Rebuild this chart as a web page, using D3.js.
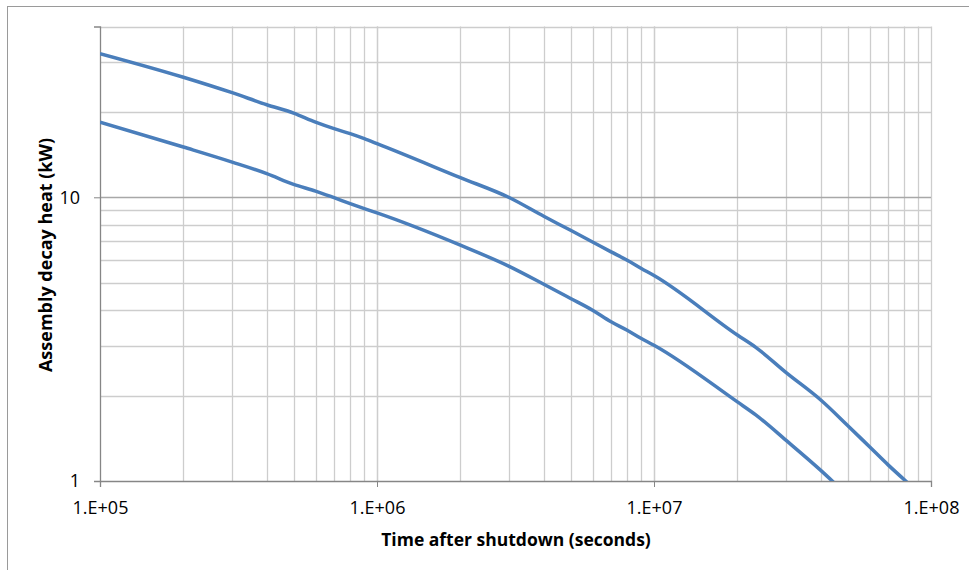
<!DOCTYPE html>
<html>
<head>
<meta charset="utf-8">
<script src="https://cdn.jsdelivr.net/npm/d3@7"></script>
<style>
  html, body { margin: 0; padding: 0; background: #fff; }
  svg { display: block; }
  text { font-family: "Open Sans", Lato, sans-serif; fill: #000; }
</style>
</head>
<body>
<svg id="chart" width="969" height="570"></svg>
<script>
// Time after shutdown (s) and assembly decay heat (kW) for the two assemblies
const timeUpper = [1e5, 2e5, 3e5, 4e5, 5e5, 6e5, 7e5, 8e5, 9e5, 1e6,
                   2e6, 3e6, 4e6, 5e6, 6e6, 7e6, 8e6, 9e6, 1e7,
                   2e7, 2.33e7, 3e7, 4e7, 5e7, 6e7, 7e7, 8.2e7];
const heatUpper = [32.1, 26.5, 23.37, 21.2, 19.81, 18.4, 17.45, 16.76, 16.09, 15.46,
                   11.73, 9.98, 8.57, 7.65, 6.96, 6.42, 6.0, 5.61, 5.3,
                   3.27, 2.96, 2.41, 1.93, 1.57, 1.32, 1.14, 0.99];
const timeLower = [1e5, 2e5, 3e5, 4e5, 5e5, 6e5, 7e5, 8e5, 9e5, 1e6,
                   2e6, 3e6, 4e6, 5e6, 6e6, 7e6, 8e6, 9e6, 1e7,
                   2e7, 2.33e7, 3e7, 4e7, 4.45e7];
const heatLower = [18.4, 15.04, 13.31, 12.12, 11.11, 10.52, 9.97, 9.5, 9.12, 8.81,
                   6.78, 5.71, 4.94, 4.4, 4.0, 3.64, 3.4, 3.18, 3.01,
                   1.9, 1.71, 1.39, 1.09, 0.99];

const xTicks = [1e5, 1e6, 1e7, 1e8];
const xTickLabels = ["1.E+05", "1.E+06", "1.E+07", "1.E+08"];
const yTicks = [1, 10];
const yTickLabels = ["1", "10"];
const xTitle = "Time after shutdown (seconds)";
const yTitle = "Assembly decay heat (kW)";

const svg = d3.select("#chart");
const plot = { left: 100, right: 931, top: 26.5, bottom: 481 };

const x = d3.scaleLog().domain([1e5, 1e8]).range([plot.left, plot.right]);
const y = d3.scaleLog().domain([1, 40]).range([plot.bottom, plot.top]);

// outer chart frame
svg.append("rect")
  .attr("x", 7.5).attr("y", 6.5)
  .attr("width", 2000).attr("height", 2000)
  .attr("fill", "none").attr("stroke", "#9a9a9a").attr("stroke-width", 1);

// gridlines
const xGrid = [];
for (let e = 5; e < 8; e++) for (let k = 1; k <= 10; k++) xGrid.push(k * Math.pow(10, e));
const yGridMinor = [2, 3, 4, 5, 6, 7, 8, 9, 20, 30, 40];

const grid = svg.append("g");
grid.selectAll("line.vx").data(xGrid.filter(v => v > 1e5)).join("line")
  .attr("x1", d => Math.round(x(d)) + 0.5).attr("x2", d => Math.round(x(d)) + 0.5)
  .attr("y1", plot.top).attr("y2", plot.bottom)
  .attr("stroke", "#cdcdcd").attr("stroke-width", 1.3);
grid.selectAll("line.hy").data(yGridMinor).join("line")
  .attr("y1", d => Math.round(y(d)) + 0.5).attr("y2", d => Math.round(y(d)) + 0.5)
  .attr("x1", plot.left).attr("x2", plot.right)
  .attr("stroke", "#cdcdcd").attr("stroke-width", 1.3);
grid.append("line")
  .attr("y1", Math.round(y(10)) + 0.5).attr("y2", Math.round(y(10)) + 0.5)
  .attr("x1", plot.left).attr("x2", plot.right)
  .attr("stroke", "#a8a8a8").attr("stroke-width", 1.3);

// axes
const xAxis = d3.axisBottom(x).tickValues(xTicks)
  .tickFormat((d, i) => xTickLabels[i]).tickSize(6).tickPadding(14);
const gx = svg.append("g").attr("transform", `translate(0,${plot.bottom})`).call(xAxis);
gx.select(".domain").attr("stroke", "#868686").attr("stroke-width", 1.3);
gx.selectAll(".tick line").attr("stroke", "#868686");
gx.selectAll(".tick text").style("font-size", "18px").style("font-family", "'Open Sans', sans-serif");

const yAxis = d3.axisLeft(y).tickValues(yTicks)
  .tickFormat((d, i) => yTickLabels[i]).tickSize(6).tickPadding(14);
const gy = svg.append("g").attr("transform", `translate(${plot.left},0)`).call(yAxis);
gy.select(".domain").attr("stroke", "#868686").attr("stroke-width", 1.3);
gy.selectAll(".tick line").attr("stroke", "#868686");
gy.selectAll(".tick text").style("font-size", "18px").style("font-family", "'Open Sans', sans-serif");

// series lines
svg.append("clipPath").attr("id", "plotClip").append("rect")
  .attr("x", plot.left).attr("y", plot.top)
  .attr("width", plot.right - plot.left).attr("height", plot.bottom - plot.top);

const line = d3.line().x(d => x(d[0])).y(d => y(d[1])).curve(d3.curveMonotoneX);
const series = [d3.zip(timeUpper, heatUpper), d3.zip(timeLower, heatLower)];
svg.append("g").attr("clip-path", "url(#plotClip)")
  .selectAll("path").data(series).join("path")
  .attr("d", line)
  .attr("fill", "none").attr("stroke", "#4a7ebb")
  .attr("stroke-width", 3.5).attr("stroke-linejoin", "round");

// axis titles
svg.append("text")
  .attr("x", 516).attr("y", 546)
  .attr("text-anchor", "middle")
  .style("font-size", "17.5px").style("font-weight", "bold")
  .text(xTitle);
svg.append("text")
  .attr("transform", "translate(52,255) rotate(-90)")
  .attr("text-anchor", "middle")
  .style("font-size", "18px").style("font-weight", "bold")
  .text(yTitle);
</script>
</body>
</html>
